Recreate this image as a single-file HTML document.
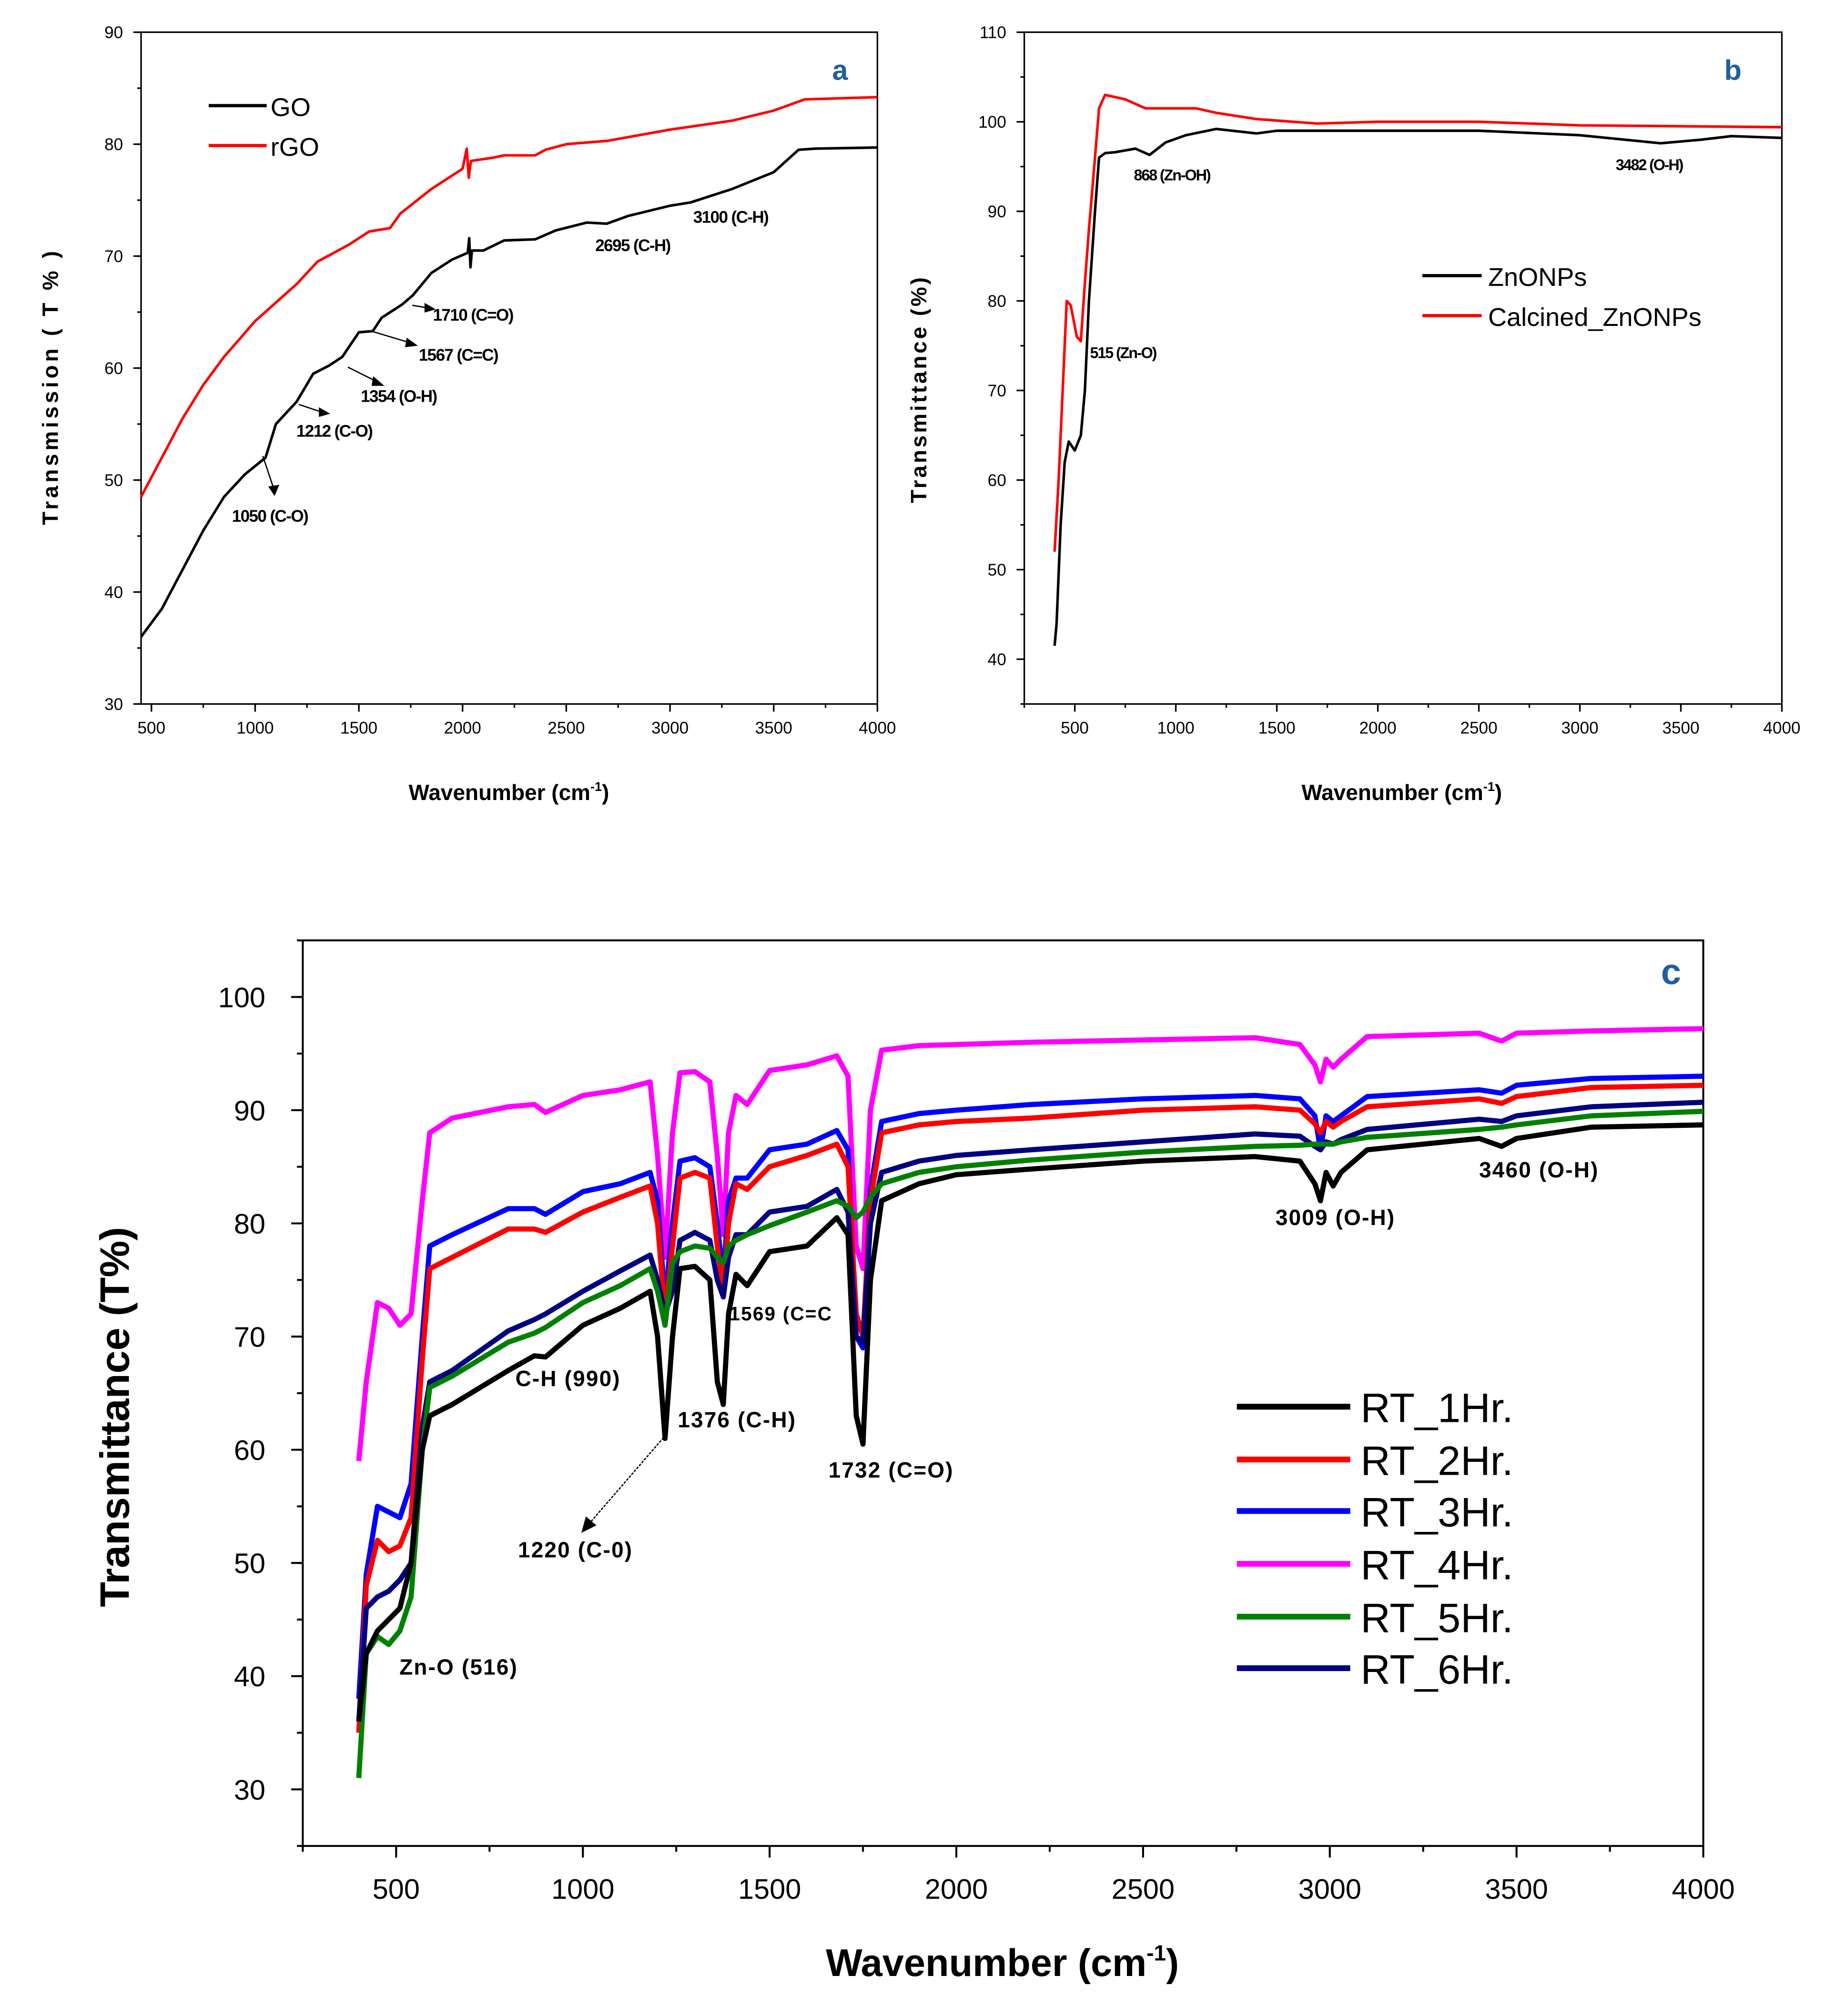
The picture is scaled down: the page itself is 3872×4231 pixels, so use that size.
<!DOCTYPE html>
<html><head><meta charset="utf-8"><style>
html,body{margin:0;padding:0;background:#fff;}
svg{display:block;font-family:"Liberation Sans",Arial,sans-serif;}
</style></head><body>
<svg id="fig" width="3872" height="4231" viewBox="0 0 1432 1565" preserveAspectRatio="none" xmlns="http://www.w3.org/2000/svg">
<rect width="1432" height="1565" fill="#fff"/>
<g id="pa"></g>
<g id="pb"></g>
<g id="pc"></g>

<!-- Panel a text -->
<g font-weight="bold">
<text x="652" y="62" font-size="22" fill="#1f5fa0" text-anchor="middle">a</text>
<text x="395" y="621" font-size="17" text-anchor="middle">Wavenumber (cm<tspan dy="-7" font-size="10">-1</tspan><tspan dy="7">)</tspan></text>
<text transform="translate(45,300) rotate(-90)" font-size="17" text-anchor="middle" letter-spacing="2.5">Transmission ( T % )</text>
<g font-size="13" letter-spacing="-0.6">
<text x="180" y="405">1050 (C-O)</text>
<text x="230" y="339">1212 (C-O)</text>
<text x="280" y="312">1354 (O-H)</text>
<text x="325" y="280">1567 (C=C)</text>
<text x="336" y="249">1710 (C=O)</text>
<text x="462" y="195">2695 (C-H)</text>
<text x="538" y="173">3100 (C-H)</text>
</g>
<g stroke="#000" stroke-width="1" fill="#000">
<line x1="204" y1="354" x2="212" y2="378"/><polygon points="209,378 216,377 213,384"/>
<line x1="232" y1="314" x2="250" y2="320"/><polygon points="248,317 255,321 248,323"/>
<line x1="270" y1="285" x2="292" y2="296"/><polygon points="290,293 297,299 289,299"/>
<line x1="288" y1="257" x2="318" y2="266"/><polygon points="316,263 323,268 315,269"/>
<line x1="320" y1="237" x2="332" y2="239"/><polygon points="330,236 337,240 330,242"/>
</g>
</g>
<g>
<line x1="162" y1="82" x2="207" y2="82" stroke="#000" stroke-width="2.5"/>
<text x="210" y="90" font-size="20">GO</text>
<line x1="162" y1="113" x2="207" y2="113" stroke="#f00" stroke-width="2.5"/>
<text x="210" y="121" font-size="20">rGO</text>
</g>

<!-- Panel b text -->
<g font-weight="bold">
<text x="1345" y="62" font-size="22" fill="#1f5fa0" text-anchor="middle">b</text>
<text x="1088" y="621" font-size="17" text-anchor="middle">Wavenumber (cm<tspan dy="-7" font-size="10">-1</tspan><tspan dy="7">)</tspan></text>
<text transform="translate(719,302) rotate(-90)" font-size="17" text-anchor="middle" letter-spacing="1.8">Transmittance (%)</text>
<g font-size="12" letter-spacing="-0.8">
<text x="846" y="278">515 (Zn-O)</text>
<text x="880" y="140">868 (Zn-OH)</text>
<text x="1254" y="132">3482 (O-H)</text>
</g>
</g>
<g>
<line x1="1104" y1="214" x2="1150" y2="214" stroke="#000" stroke-width="2.5"/>
<text x="1155" y="222" font-size="20">ZnONPs</text>
<line x1="1104" y1="245" x2="1150" y2="245" stroke="#f00" stroke-width="2.5"/>
<text x="1155" y="253" font-size="20">Calcined_ZnONPs</text>
</g>

<!-- Panel c text -->
<g font-weight="bold">
<text x="1297" y="764" font-size="28" fill="#1f5fa0" text-anchor="middle">c</text>
<text x="778" y="1534" font-size="30" text-anchor="middle">Wavenumber (cm<tspan dy="-12" font-size="17">-1</tspan><tspan dy="12">)</tspan></text>
<text transform="translate(100,1100) rotate(-90)" font-size="32" text-anchor="middle">Transmittance (T%)</text>
<g font-size="17" letter-spacing="0.8">
<text x="310" y="1300">Zn-O (516)</text>
<text x="400" y="1076">C-H (990)</text>
<text x="402" y="1209">1220 (C-0)</text>
<text x="526" y="1108">1376 (C-H)</text>
<text x="566" y="1025" font-size="15">1569 (C=C</text>
<text x="643" y="1147">1732 (C=O)</text>
<text x="990" y="951">3009 (O-H)</text>
<text x="1148" y="914">3460 (O-H)</text>
</g>
<g stroke="#000" stroke-width="1" fill="#000">
<line x1="515" y1="1116" x2="458" y2="1182" stroke-dasharray="2,1"/><polygon points="452,1189 455,1178 462,1184"/>
</g>
</g>
<g font-size="32">
<line x1="960" y1="1092" x2="1048" y2="1092" stroke="#000" stroke-width="4.5"/><text x="1056" y="1104">RT_1Hr.</text>
<line x1="960" y1="1133" x2="1048" y2="1133" stroke="#f00" stroke-width="4.5"/><text x="1056" y="1145">RT_2Hr.</text>
<line x1="960" y1="1173" x2="1048" y2="1173" stroke="#00f" stroke-width="4.5"/><text x="1056" y="1185">RT_3Hr.</text>
<line x1="960" y1="1214" x2="1048" y2="1214" stroke="#f0f" stroke-width="4.5"/><text x="1056" y="1226">RT_4Hr.</text>
<line x1="960" y1="1255" x2="1048" y2="1255" stroke="#008000" stroke-width="4.5"/><text x="1056" y="1267">RT_5Hr.</text>
<line x1="960" y1="1295" x2="1048" y2="1295" stroke="#000080" stroke-width="4.5"/><text x="1056" y="1307">RT_6Hr.</text>
</g>
</svg>
<script>
// ---------- Panel a data ----------
const aGoX=[450,550,650,750,850,950,1050,1100,1200,1280,1354,1420,1500,1567,1610,1710,1760,1850,1950,2025,2032,2038,2045,2100,2200,2350,2450,2600,2695,2800,3000,3100,3300,3500,3620,3700,4000];
const aGoY=[36,38.5,42,45.5,48.5,50.5,52,55,57,59.5,60.2,61,63.2,63.3,64.5,65.7,66.5,68.5,69.7,70.3,71.6,69,70.5,70.5,71.4,71.5,72.3,73,72.9,73.6,74.5,74.8,76,77.5,79.5,79.6,79.7];
const aRgoX=[450,550,650,750,850,1000,1200,1300,1450,1550,1650,1700,1850,2000,2020,2030,2040,2150,2200,2350,2400,2500,2700,3000,3300,3500,3650,4000];
const aRgoY=[48.5,52,55.5,58.5,61,64.2,67.5,69.5,71,72.2,72.5,73.8,76,77.8,79.6,77,78.5,78.8,79,79,79.5,80,80.3,81.3,82.1,83,84,84.2];
const aXTicks=[500,1000,1500,2000,2500,3000,3500,4000];
const aYTicks=[30,40,50,60,70,80,90];
// ---------- Panel b data ----------
const bZnX=[400,410,430,450,470,500,530,550,570,600,620,650,700,800,870,950,1050,1200,1400,1500,2000,2500,3000,3400,3600,3750,4000];
const bZnY=[41.5,44,55,62,64.3,63.3,65,70,80,90,96,96.5,96.6,97,96.3,97.7,98.5,99.2,98.7,99,99,99,98.5,97.6,98,98.4,98.2];
const bCalX=[400,420,440,460,480,510,530,550,570,600,620,650,750,850,1100,1200,1400,1700,2000,2500,3000,4000];
const bCalY=[52,60,70,80,79.5,76,75.5,82,88,96,101.5,103,102.5,101.5,101.5,101,100.3,99.8,100,100,99.6,99.4];
const bXTicks=[500,1000,1500,2000,2500,3000,3500,4000];
const bYTicks=[40,50,60,70,80,90,100,110];
// ---------- Panel c data ----------
const cX=[400,420,450,480,510,540,570,590,650,800,870,900,1000,1100,1180,1200,1220,1240,1260,1300,1340,1360,1376,1390,1410,1440,1500,1600,1680,1710,1732,1750,1770,1800,1900,2000,2200,2500,2800,2920,2960,2975,2990,3009,3030,3100,3400,3460,3500,3700,4000];
const rt1=[36,42,44,45,46,50,60,63,64,67,68.3,68.2,71,72.5,74,70,61,70,76,76.2,75,66,64,72,75.5,74.5,77.5,78,80.5,79,63,60.5,75,82,83.5,84.3,84.8,85.5,85.9,85.5,83.5,82,84.5,83.3,84.5,86.5,87.5,86.8,87.5,88.5,88.7];
const rt2=[35,48,52,51,51.5,54,68,76,77,79.5,79.5,79.2,81,82.3,83.3,80,72,78,84,84.5,84,78,74,80,83.5,83,85,86,87,85,72,70,82,88,88.7,89,89.3,90,90.3,90,88.8,88,89,88.5,89,90.3,91,90.6,91.2,92,92.2];
const rt3=[38,49,55,54.5,54,57,70,78,79,81.3,81.3,80.8,82.8,83.5,84.5,82,73,80,85.5,85.8,85,80,75,82,84,84,86.5,87,88.2,86.5,70,69,83,89,89.7,90,90.5,91,91.3,91,89.5,86.5,89.5,89,89.5,91.2,91.8,91.5,92.2,92.8,93];
const rt4=[59,66,73,72.5,71,72,82,88,89.3,90.3,90.5,89.8,91.3,91.8,92.5,86,77,88,93.3,93.4,92.5,86,79,88,91.3,90.5,93.5,94,94.8,93,78,76,90,95.3,95.7,95.8,96,96.2,96.4,95.8,94,92.5,94.5,93.8,94.5,96.5,96.8,96.1,96.8,97,97.2];
const rt5=[31,42,43.5,42.8,44,47,60,65.5,66.5,69.5,70.3,70.8,73,74.5,76,74,71,76.5,77.5,78,77.8,77,76.5,78,78.5,79,79.8,81,82,81.5,80.5,81,82.3,83.5,84.5,85,85.6,86.3,86.8,86.9,87,87,87,87,87.2,87.6,88.3,88.5,88.7,89.5,89.9];
const rt6=[36,46,47,47.5,48.5,50,62,66,67,70.5,71.5,72,74,75.8,77.2,75,72,74,78.5,79.2,78.5,75,73.5,77,79,79,81,81.5,83,81,70,69.5,80,84.5,85.5,86,86.5,87.2,87.9,87.7,86.8,86.5,87.2,87,87.4,88.3,89.2,89,89.5,90.3,90.7];
const cXTicks=[500,1000,1500,2000,2500,3000,3500,4000];
const cYTicks=[30,40,50,60,70,80,90,100];

const NS='http://www.w3.org/2000/svg';
function mk(parent,tag,attrs){const e=document.createElementNS(NS,tag);for(const k in attrs)e.setAttribute(k,attrs[k]);parent.appendChild(e);return e;}

function panel(g,cfg){
  const sx=v=>cfg.px0+(v-cfg.x0)/(cfg.x1-cfg.x0)*(cfg.px1-cfg.px0);
  const sy=v=>cfg.py0-(v-cfg.y0)/(cfg.y1-cfg.y0)*(cfg.py0-cfg.py1);
  const frame=mk(g,'rect',{x:cfg.px0,y:cfg.py1,width:cfg.px1-cfg.px0,height:cfg.py0-cfg.py1,fill:'none',stroke:'#000','stroke-width':cfg.aw});
  
  
  for(let v=Math.ceil(cfg.x0/cfg.xm)*cfg.xm;v<=cfg.x1;v+=cfg.xm){
    const t=mk(g,'line',{x1:sx(v),x2:sx(v),y1:cfg.py0,y2:cfg.py0+cfg.tl/2,stroke:'#000','stroke-width':cfg.aw});
    
    
  }
  cfg.xt.forEach(v=>{
    const t=mk(g,'line',{x1:sx(v),x2:sx(v),y1:cfg.py0,y2:cfg.py0+cfg.tl,stroke:'#000','stroke-width':cfg.aw});
    
    
    const l=mk(g,'text',{x:sx(v),y:cfg.py0+cfg.tl+cfg.fs+cfg.xg,'font-size':cfg.fs,'text-anchor':'middle'});
    l.textContent=v;
    
    
  });
  for(let v=Math.ceil(cfg.y0/cfg.ym)*cfg.ym;v<=cfg.y1;v+=cfg.ym){
    const t=mk(g,'line',{x1:cfg.px0,x2:cfg.px0-cfg.tl/2,y1:sy(v),y2:sy(v),stroke:'#000','stroke-width':cfg.aw});
    
    
  }
  cfg.yt.forEach(v=>{
    const t=mk(g,'line',{x1:cfg.px0,x2:cfg.px0-cfg.tl,y1:sy(v),y2:sy(v),stroke:'#000','stroke-width':cfg.aw});
    
    
    const l=mk(g,'text',{x:cfg.px0-cfg.tl-cfg.yg,y:sy(v)+cfg.fs*0.36,'font-size':cfg.fs,'text-anchor':'end'});
    l.textContent=v;
    
    
  });
  cfg.series.forEach(s=>{
    const d=s.x.map((x,i)=>(i?'L':'M')+sx(x).toFixed(2)+','+sy(s.y[i]).toFixed(2)).join('');
    const p=mk(g,'path',{d:d,fill:'none',stroke:s.c,'stroke-width':cfg.lw,'stroke-linejoin':'round'});
    
    
  });
}
panel(document.getElementById('pa'),{x0:450,x1:4000,y0:30,y1:90,px0:109.5,px1:681,py0:546.5,py1:25,xm:250,ym:5,xt:aXTicks,yt:aYTicks,tl:6,fs:13,xg:4,yg:8,aw:1.2,lw:2,
  series:[{x:aRgoX,y:aRgoY,c:'#f00',n:'rgo-line'},{x:aGoX,y:aGoY,c:'#000',n:'go-line'}]});
panel(document.getElementById('pb'),{x0:250,x1:4000,y0:35,y1:110,px0:795,px1:1383,py0:546.5,py1:25,xm:250,ym:5,xt:bXTicks,yt:bYTicks,tl:6,fs:13,xg:4,yg:8,aw:1.2,lw:2,
  series:[{x:bCalX,y:bCalY,c:'#f00',n:'calcined-znonps-line'},{x:bZnX,y:bZnY,c:'#000',n:'znonps-line'}]});
panel(document.getElementById('pc'),{x0:250,x1:4000,y0:25,y1:105,px0:235,px1:1322,py0:1433,py1:730,xm:250,ym:5,xt:cXTicks,yt:cYTicks,tl:9,fs:22,xg:10,yg:20,aw:1.5,lw:4,
  series:[{x:cX,y:rt4,c:'#f0f',n:'rt4-line'},{x:cX,y:rt3,c:'#00f',n:'rt3-line'},{x:cX,y:rt2,c:'#f00',n:'rt2-line'},{x:cX,y:rt6,c:'#000080',n:'rt6-line'},{x:cX,y:rt5,c:'#008000',n:'rt5-line'},{x:cX,y:rt1,c:'#000',n:'rt1-line'}]});
</script>
</body></html>
